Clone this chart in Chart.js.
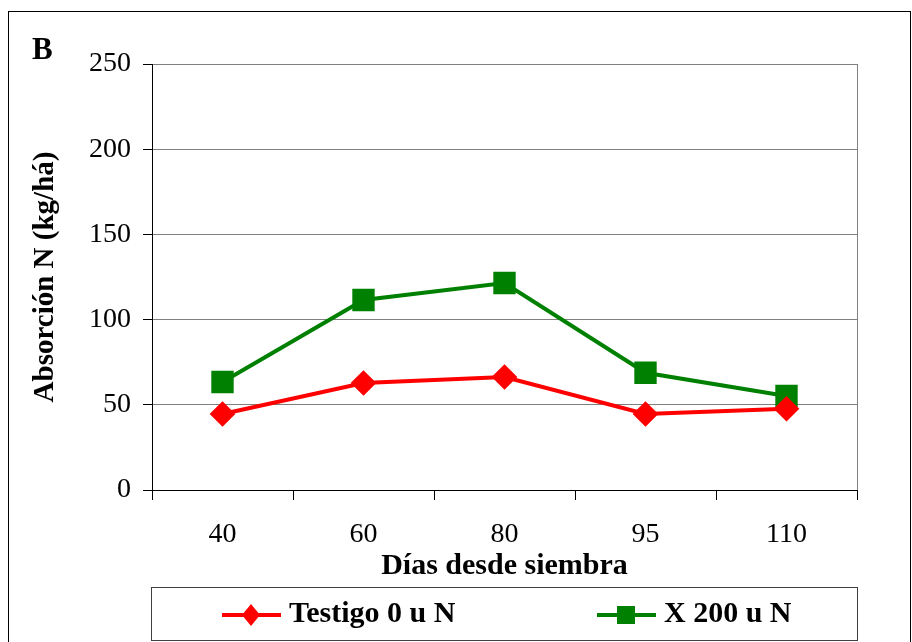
<!DOCTYPE html>
<html>
<head>
<meta charset="utf-8">
<script src="https://cdn.jsdelivr.net/npm/chart.js@4/dist/chart.umd.min.js"></script>
<style>
    html, body { margin: 0; padding: 0; background: #fff; }
    #wrap { width: 912px; height: 642px; }
</style>
</head>
<body>
<div id="wrap"><canvas id="grafico" width="912" height="642"></canvas></div>
<script>
// Datos
const dias = ['40', '60', '80', '95', '110'];
const testigo = [44.6, 62.8, 66.3, 44.6, 47.7];
const x200 = [63.4, 111.5, 121.5, 68.8, 55.2];
const etiquetas = ['Testigo 0 u N', 'X 200 u N'];
const yMin = 0, yMax = 250, yPaso = 50;

const SERIF = "'Liberation Serif', 'Times New Roman', serif";

// Marco exterior, letra B, borde gris del área y leyenda con recuadro
const decoracion = {
    id: 'decoracion',
    beforeDatasetsDraw(chart) {
        const { ctx, chartArea: a } = chart;
        ctx.save();
        ctx.strokeStyle = '#808080';
        ctx.lineWidth = 1;
        ctx.beginPath();
        ctx.moveTo(Math.round(a.right) + 0.5, a.top);
        ctx.lineTo(Math.round(a.right) + 0.5, a.bottom);
        ctx.stroke();
        ctx.restore();
    },
    afterDraw(chart) {
        const { ctx, chartArea: a } = chart;
        ctx.save();
        // marco
        ctx.strokeStyle = '#000';
        ctx.lineWidth = 1;
        ctx.strokeRect(8.5, 11.5, 902, 660);
        // letra B
        ctx.fillStyle = '#000';
        ctx.font = 'bold 31px ' + SERIF;
        ctx.textBaseline = 'alphabetic';
        ctx.fillText('B', 32, 59);
        // recuadro de la leyenda
        ctx.strokeStyle = '#404040';
        ctx.strokeRect(Math.round(a.left) - 0.5, 587.5, Math.round(a.right - a.left) + 1, 53);
        // entradas
        const posX = [222, 597];
        const yL = 615;
        chart.data.datasets.forEach((ds, i) => {
            const x0 = posX[i];
            ctx.strokeStyle = ds.borderColor;
            ctx.lineWidth = 4;
            ctx.beginPath();
            ctx.moveTo(x0, yL);
            ctx.lineTo(x0 + 59, yL);
            ctx.stroke();
            const cx = x0 + 29;
            ctx.fillStyle = ds.pointBackgroundColor;
            ctx.beginPath();
            if (ds.pointStyle === 'rectRot') {
                ctx.moveTo(cx, yL - 11);
                ctx.lineTo(cx + 9, yL);
                ctx.lineTo(cx, yL + 11);
                ctx.lineTo(cx - 9, yL);
                ctx.closePath();
            } else {
                ctx.rect(cx - 9, yL - 9, 18, 18);
            }
            ctx.fill();
            ctx.fillStyle = '#000';
            ctx.font = 'bold 30px ' + SERIF;
            ctx.textBaseline = 'middle';
            ctx.fillText(ds.label, x0 + 67, yL - 1);
        });
        ctx.restore();
    }
};

new Chart(document.getElementById('grafico'), {
    type: 'line',
    data: {
        labels: dias,
        datasets: [
            {
                label: etiquetas[0],
                data: testigo,
                borderColor: '#ff0000',
                backgroundColor: '#ff0000',
                pointBackgroundColor: '#ff0000',
                pointBorderColor: '#ff0000',
                pointStyle: 'rectRot',
                pointRadius: 10,
                borderWidth: 4,
                tension: 0
            },
            {
                label: etiquetas[1],
                data: x200,
                borderColor: '#008000',
                backgroundColor: '#008000',
                pointBackgroundColor: '#008000',
                pointBorderColor: '#008000',
                pointStyle: 'rect',
                pointRadius: 13,
                borderWidth: 4,
                tension: 0
            }
        ]
    },
    options: {
        responsive: false,
        animation: false,
        layout: { padding: { left: 20, top: 64, right: 55, bottom: 58 } },
        plugins: {
            legend: { display: false },
            tooltip: { enabled: false }
        },
        scales: {
            x: {
                offset: true,
                grid: {
                    offset: true,
                    drawOnChartArea: false,
                    tickLength: 10,
                    tickColor: '#000'
                },
                border: { color: '#000', width: 1 },
                ticks: {
                    color: '#000',
                    padding: 18,
                    font: { family: SERIF, size: 28 }
                },
                title: {
                    display: true,
                    text: 'Días desde siembra',
                    color: '#000',
                    padding: 0,
                    font: { family: SERIF, size: 30, weight: 'bold' }
                },
                afterFit(scale) { scale.height = 94; }
            },
            y: {
                min: yMin,
                max: yMax,
                ticks: {
                    stepSize: yPaso,
                    color: '#000',
                    padding: 12,
                    font: { family: SERIF, size: 28 }
                },
                grid: {
                    color: '#808080',
                    tickLength: 9,
                    tickColor: '#000'
                },
                border: { color: '#000', width: 1 },
                title: {
                    display: true,
                    text: 'Absorción N (kg/há)',
                    color: '#000',
                    padding: { top: 8, bottom: 0 },
                    font: { family: SERIF, size: 29, weight: 'bold' }
                },
                afterFit(scale) { scale.width = 132; }
            }
        }
    },
    plugins: [decoracion]
});
</script>
</body>
</html>
